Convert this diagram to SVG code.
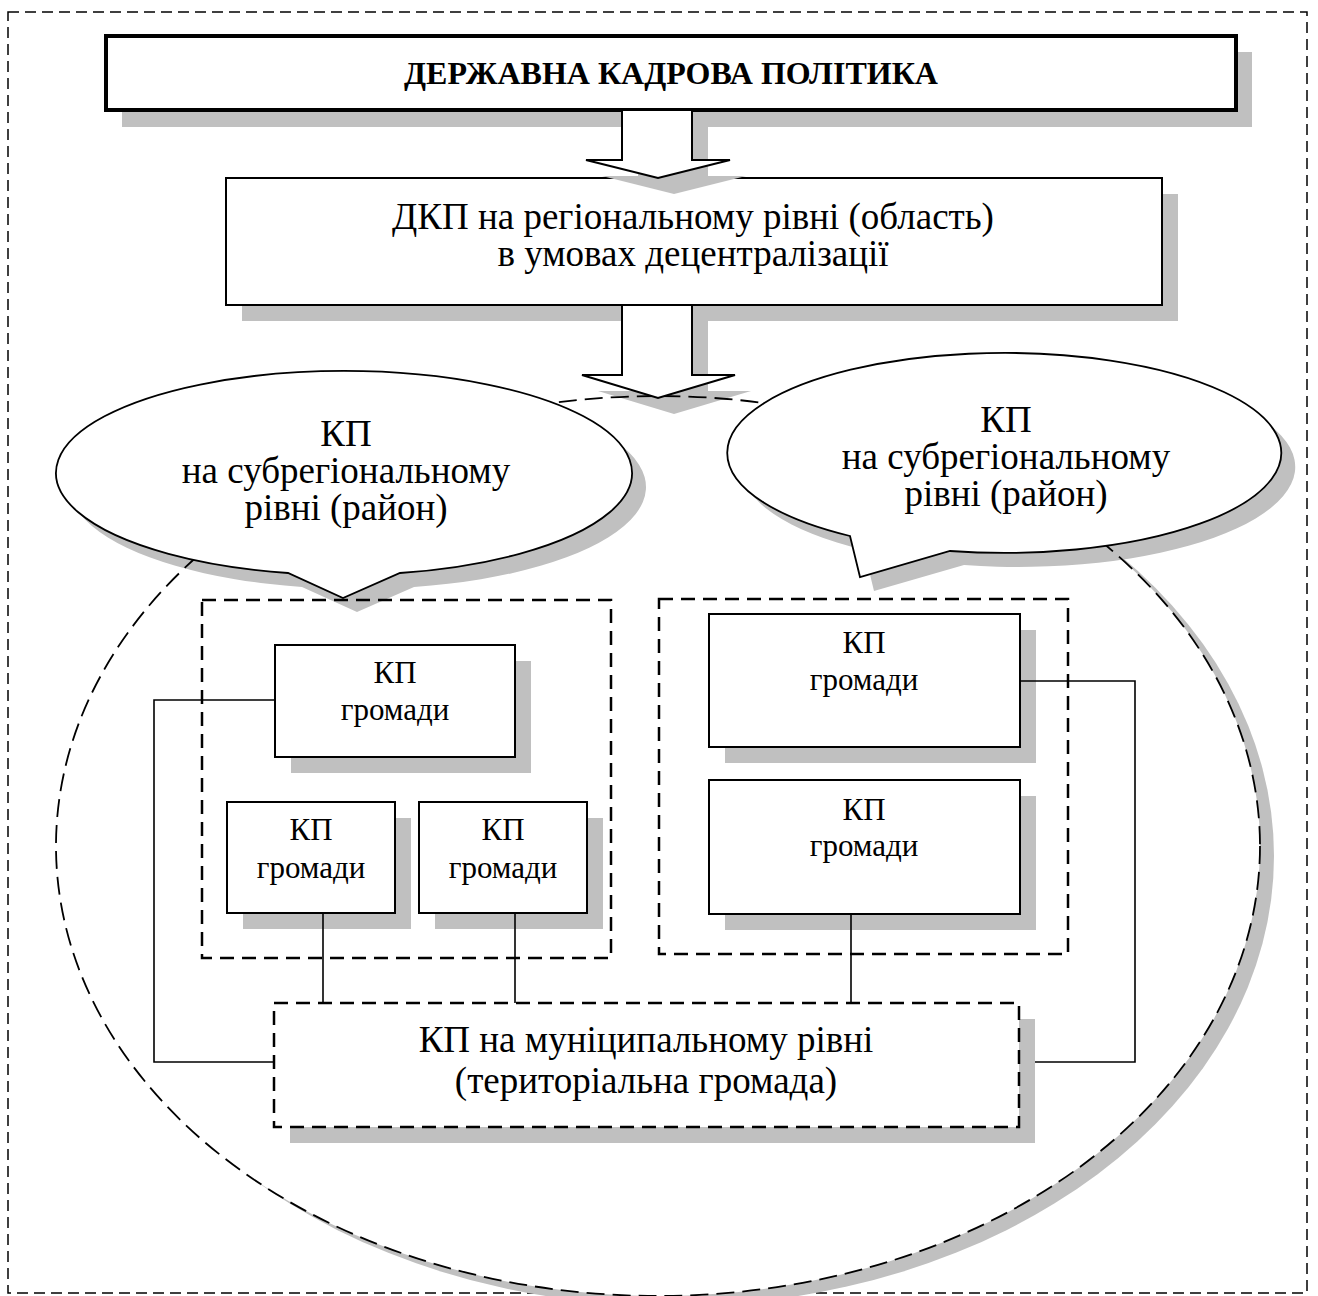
<svg xmlns="http://www.w3.org/2000/svg" width="1318" height="1296" viewBox="0 0 1318 1296">
<style>
text{font-family:"Liberation Serif","Times New Roman",serif;fill:#000;text-anchor:middle}
.big{font-size:37px}
.small{font-size:31px}
.title{font-size:32px;font-weight:bold}
.sh{fill:#c0c0c0;stroke:none}
.box{fill:#fff;stroke:#000;stroke-width:2}
.dbox{fill:none;stroke:#000;stroke-width:2.5;stroke-dasharray:14 8}
.conn{fill:none;stroke:#000;stroke-width:1.6}
</style>
<rect id="frame" x="8" y="12" width="1299" height="1281" fill="none" stroke="#000" stroke-width="1.5" stroke-dasharray="11 6"/>

<g id="node-state">
<rect class="sh" x="122" y="52" width="1130" height="75"/>
<rect x="106" y="36" width="1130" height="74" fill="#fff" stroke="#000" stroke-width="4"/>
<text class="title" x="671" y="84">ДЕРЖАВНА КАДРОВА ПОЛІТИКА</text>
</g>

<g id="node-regional">
<rect class="sh" x="242" y="194" width="936" height="127"/>
<rect class="box" x="226" y="178" width="936" height="127" stroke-width="1.8"/>
<text class="big" x="693" y="229">ДКП на регіональному рівні (область)</text>
<text class="big" x="693" y="266">в умовах децентралізації</text>
</g>

<g id="arrow1">
<polygon class="sh" points="638,126 708,126 708,176 746,176 674,194 602,176 638,176"/>
<polygon points="622,110 692,110 692,160 730,160 658,178 586,160 622,160" fill="#fff" stroke="#000" stroke-width="2"/>
</g>

<g id="big-ellipse-base">
<ellipse cx="672" cy="856" rx="602" ry="450" fill="#c0c0c0"/>
<ellipse cx="658" cy="846" rx="602" ry="450" fill="#fff"/>
</g>

<g id="callout-shadows">
<path class="sh" d="M302,587 A288,102 0 1,1 414,587 L357,612 Z"/>
<path class="sh" d="M864,550 A277,100 0 1,1 964,565 L874,591 Z"/>
<polygon class="sh" points="638,321 708,321 708,391 751,391 674,414 598,391 638,391"/>
</g>

<ellipse id="big-ellipse" cx="658" cy="846" rx="602" ry="450" fill="none" stroke="#000" stroke-width="1.8" stroke-dasharray="18 8"/>

<g id="node-sub-left">
<path d="M288,573 A288,102 0 1,1 400,573 L343,598 Z" fill="#fff" stroke="#000" stroke-width="1.8"/>
<text class="big" x="346" y="446">КП</text>
<text class="big" x="346" y="483">на субрегіональному</text>
<text class="big" x="346" y="520">рівні (район)</text>
</g>

<g id="node-sub-right">
<path d="M850,536 A277,100 0 1,1 950,551 L860,577 Z" fill="#fff" stroke="#000" stroke-width="1.8"/>
<text class="big" x="1006" y="432">КП</text>
<text class="big" x="1006" y="469">на субрегіональному</text>
<text class="big" x="1006" y="506">рівні (район)</text>
</g>

<g id="arrow2">
<polygon points="622,305 692,305 692,375 735,375 658,398 582,375 622,375" fill="#fff" stroke="#000" stroke-width="2"/>
</g>

<g id="group-left">
<rect class="dbox" x="202" y="600" width="409" height="358"/>
</g>
<g id="group-right">
<rect class="dbox" x="659" y="599" width="409" height="355"/>
</g>

<g id="node-g1">
<rect class="sh" x="291" y="661" width="240" height="112"/>
<rect class="box" x="275" y="645" width="240" height="112"/>
<text class="small" x="395" y="683">КП</text>
<text class="small" x="395" y="720">громади</text>
</g>
<g id="node-g2">
<rect class="sh" x="243" y="818" width="168" height="111"/>
<rect class="box" x="227" y="802" width="168" height="111"/>
<text class="small" x="311" y="840">КП</text>
<text class="small" x="311" y="878">громади</text>
</g>
<g id="node-g3">
<rect class="sh" x="435" y="818" width="168" height="111"/>
<rect class="box" x="419" y="802" width="168" height="111"/>
<text class="small" x="503" y="840">КП</text>
<text class="small" x="503" y="878">громади</text>
</g>
<g id="node-g4">
<rect class="sh" x="725" y="630" width="311" height="133"/>
<rect class="box" x="709" y="614" width="311" height="133"/>
<text class="small" x="864" y="653">КП</text>
<text class="small" x="864" y="690">громади</text>
</g>
<g id="node-g5">
<rect class="sh" x="725" y="796" width="311" height="134"/>
<rect class="box" x="709" y="780" width="311" height="134"/>
<text class="small" x="864" y="820">КП</text>
<text class="small" x="864" y="856">громади</text>
</g>

<g id="connectors">
<polyline class="conn" points="275,700 154,700 154,1062 274,1062"/>
<line class="conn" x1="323" y1="913" x2="323" y2="1003"/>
<line class="conn" x1="515" y1="913" x2="515" y2="1003"/>
<line class="conn" x1="851" y1="914" x2="851" y2="1003"/>
<polyline class="conn" points="1020,681 1135,681 1135,1062 1019,1062"/>
</g>

<g id="node-municipal">
<rect class="sh" x="290" y="1019" width="745" height="124"/>
<rect x="274" y="1003" width="745" height="124" fill="#fff" stroke="#000" stroke-width="2.5" stroke-dasharray="14 8"/>
<text class="big" x="646" y="1052">КП на муніципальному рівні</text>
<text class="big" x="646" y="1093">(територіальна громада)</text>
</g>
</svg>
